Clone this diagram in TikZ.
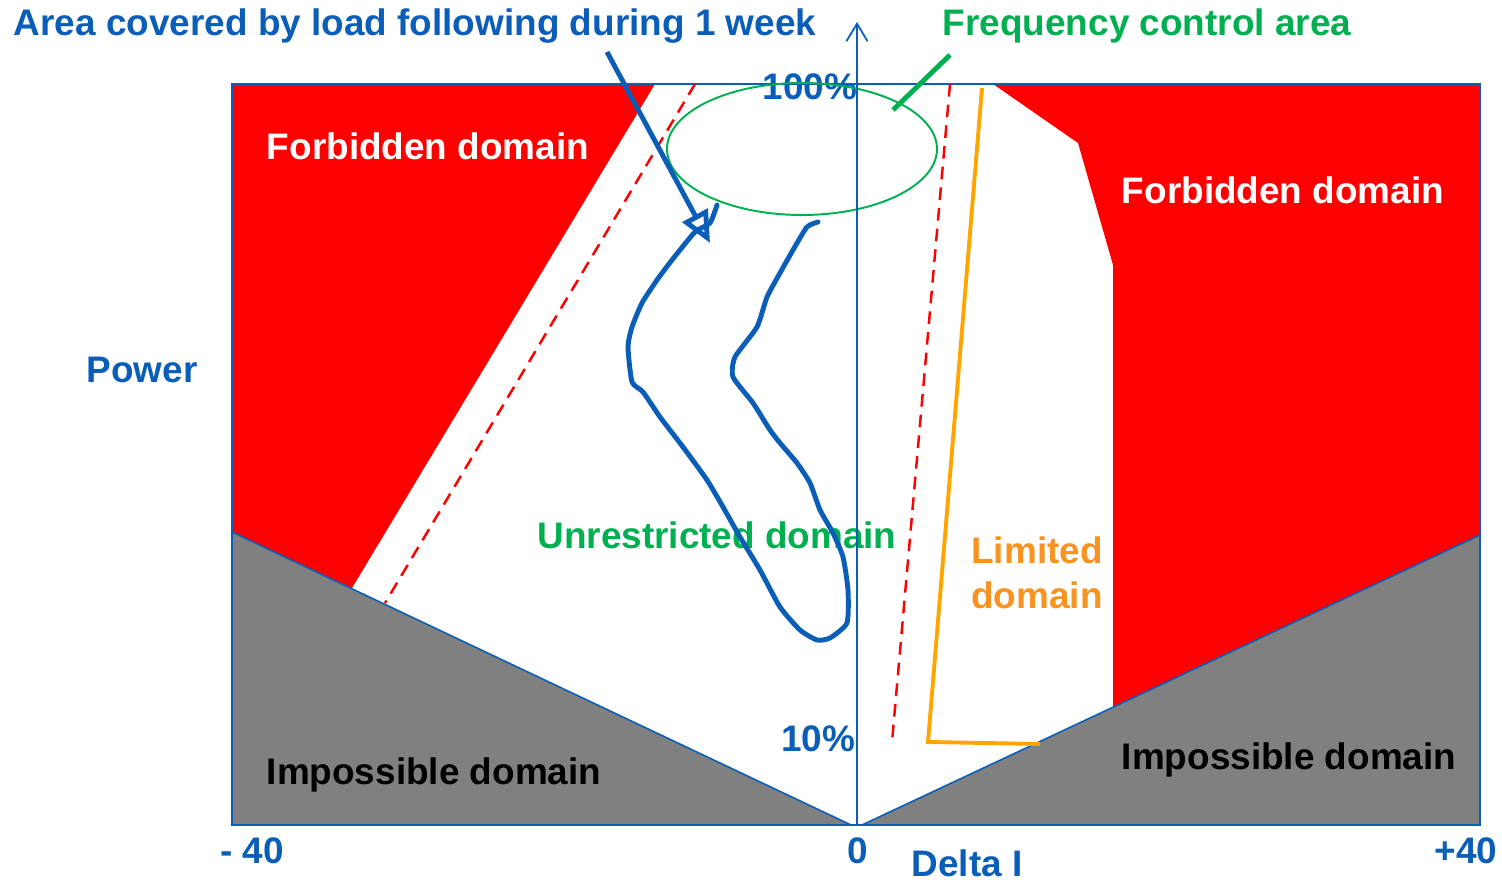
\documentclass[tikz,border=0pt]{standalone}
\usepackage{fontspec}
\setmainfont{Liberation Sans}
\usepackage{tikz}
\usetikzlibrary{arrows.meta}
\definecolor{axisblue}{HTML}{0A5EB8}
\definecolor{forbred}{HTML}{FF0000}
\definecolor{impgray}{HTML}{808080}
\definecolor{freqgreen}{HTML}{00B050}
\definecolor{limorange}{HTML}{F7931E}
\definecolor{limline}{HTML}{FFA500}
\tikzset{
  lbl/.style={font=\fontsize{10.5}{12.8}\selectfont\bfseries, inner sep=0pt},
  redzone/.style={fill=forbred, draw=none},
  grayzone/.style={fill=impgray, draw=axisblue, line width=0.45pt},
  limitdash/.style={draw=forbred, line width=0.7pt, dash pattern=on 3.6pt off 2.3pt},
  limitline/.style={draw=limline, line width=1.1pt},
  loadcurve/.style={draw=axisblue, line width=1.4pt, line join=round, line cap=round},
  pointer/.style={line width=1.4pt}
}

\begin{document}
\begin{tikzpicture}[x=0.01cm, y=-0.01cm]
  \useasboundingbox (0,0) rectangle (1502,880);

  % ===== Frame corners =====
  \coordinate (TL) at (232,84);
  \coordinate (TR) at (1480,84);
  \coordinate (BL) at (232,825);
  \coordinate (BR) at (1480,825);
  \coordinate (O)  at (857,825);

  % ===== Forbidden domains =====
  \fill[redzone] (TL) -- (655,84) -- (352,588) -- (232,532) -- cycle;
  \fill[redzone] (993,84) -- (TR) -- (1480,535) -- (1113,707)
                 -- (1113,265) -- (1078,143) -- cycle;

  % ===== Impossible domains =====
  \draw[grayzone] (232,532) -- (851,825) -- (BL) -- cycle;
  \draw[grayzone] (862,825) -- (1480,535) -- (BR) -- cycle;

  % frame
  \draw[axisblue, line width=0.45pt] (TL) rectangle (BR);

  % ===== Limits =====
  \draw[limitdash] (695,84) -- (385,603);
  \draw[limitdash] (950,84) -- (892,742);
  \draw[limitline] (982,88) -- (928,742) -- (1040,744);

  % ===== Labels =====
  \node[lbl, text=axisblue] (area) at (415,26) {Area covered by load following during 1 week};
  \node[lbl, text=freqgreen] (freq) at (1147,26) {Frequency control area};
  \node[lbl, text=axisblue] (power) at (142,370) {Power};
  \node[lbl, text=white] (forbL) at (428,146) {Forbidden domain};
  \node[lbl, text=white] (forbR) at (1283,190) {Forbidden domain};
  \node[lbl, text=freqgreen] (unres) at (717,535) {Unrestricted domain};
  \node[lbl, text=limorange, align=left] (lim) at (1037,573) {Limited\\domain};
  \node[lbl, text=black] (impL) at (434,775) {Impossible domain};
  \node[lbl, text=black] (impR) at (1289,760) {Impossible domain};
  \node[lbl, text=axisblue] (p100) at (810,87) {100\%};
  \node[lbl, text=axisblue] (p10) at (818,739) {10\%};
  \node[lbl, text=axisblue] (xmin) at (252,851) {- 40};
  \node[lbl, text=axisblue] (xzero) at (858,851) {0};
  \node[lbl, text=axisblue] (delta) at (967,863) {Delta I};
  \node[lbl, text=axisblue] (xmax) at (1466,851) {+40};

  % ===== Frequency control area =====
  \draw[freqgreen, line width=0.55pt] (802,149) ellipse [x radius=135, y radius=66];
  \coordinate (freq-tip) at (893,110);
  \draw[freqgreen, pointer] (950,55) -- (freq-tip);

  % ===== Load following over 1 week =====
  \draw[loadcurve] plot[smooth, tension=0.35] coordinates {
    (717,205) (710,223) (695,232) (672,260) (657,280) (642,303) (632,327)
    (628,347) (632,382) (643,392) (660,417) (683,447) (707,480) (723,507)
    (740,537) (760,570) (780,607) (800,630) (817,640) (830,638) (847,623)
    (848,590) (843,557) (833,533) (820,510) (810,483) (797,463) (780,443)
    (770,430) (753,403) (733,377) (735,357) (757,327) (767,297) (780,273)
    (793,250) (807,227) (818,222)};
  \coordinate (load-tip) at (710,243);
  \draw[axisblue, pointer, -{Triangle[open, length=9pt, width=8pt]}] (607,52) -- (load-tip);

  % ===== Power axis =====
  \coordinate (axis-top) at (857,22);
  \draw[axisblue, line width=0.5pt, -{Straight Barb[length=5pt, width=6pt]}] (O) -- (axis-top);
\end{tikzpicture}
\end{document}
